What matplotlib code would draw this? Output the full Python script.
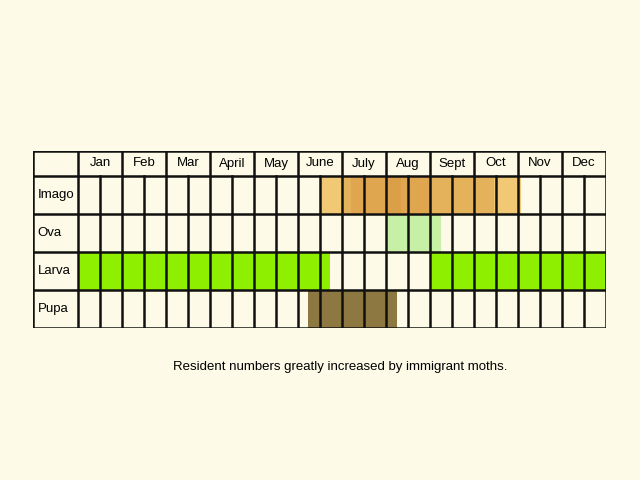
import matplotlib.pyplot as plt
from matplotlib.patches import Rectangle

months = ['Jan', 'Feb', 'Mar', 'Apr' if False else 'April', 'May', 'June', 'July',
          'Aug', 'Sept', 'Oct', 'Nov', 'Dec']
stages = ['Imago', 'Ova', 'Larva', 'Pupa']

# periods in months (0 = start of Jan)
imago = [(5.5, 10.07), (6.0, 9.45), (6.2, 8.0), (7.0, 7.35)]
ova = [(7.0, 8.25)]
larva = [(0.0, 5.73), (8.0, 12.0)]
pupa = [(5.23, 7.25)]

bg = '#fdfbe8'
fig = plt.figure(figsize=(6.4, 4.8), dpi=100, facecolor=bg)
# grid spans x 33..606 px, y 151..328 px
ax = fig.add_axes([33/640, 1 - 328/480, (606-33)/640, (328-151)/480])
lab_w = 45/44
hdr = 25/38
ax.set_xlim(-lab_w, 12)
ax.set_ylim(4 + hdr, 0)
ax.axis('off')
ax.set_facecolor(bg)

def row_y(i):
    return hdr + i

def bars(i, spans, color, alpha):
    for a, b in spans:
        ax.add_patch(Rectangle((a, row_y(i)), b - a, 1, color=color, alpha=alpha, lw=0))

bars(0, imago[:1], '#f0c060', 0.85)
for s in imago[1:]:
    bars(0, [s], '#d89840', 0.45)
bars(1, ova, '#c6f0a6', 1)
bars(2, larva, '#8ef000', 1)
bars(3, pupa, '#8c7840', 1)

lw = 1.8
# horizontal lines
for y in [0, hdr, hdr + 1, hdr + 2, hdr + 3, hdr + 4]:
    ax.plot([-lab_w, 12], [y, y], color='#111111', lw=lw, solid_capstyle='projecting')
# vertical lines
ax.plot([-lab_w, -lab_w], [0, hdr + 4], color='#111111', lw=lw)
for m in range(13):
    ax.plot([m, m], [0, hdr + 4], color='#111111', lw=lw)
for m in range(12):
    ax.plot([m + 0.5, m + 0.5], [hdr, hdr + 4], color='#111111', lw=lw)

for m, name in enumerate(months):
    ax.text(m + 0.5, hdr / 2, name, ha='center', va='center', fontsize=9.5,
            family='Liberation Sans')
for i, name in enumerate(stages):
    ax.text(-lab_w + 0.1, row_y(i) + 0.5, name, ha='left', va='center', fontsize=9.5,
            family='Liberation Sans')

fig.text(340/640, 1 - 367/480, 'Resident numbers greatly increased by immigrant moths.',
         ha='center', va='center', fontsize=9.5, family='Liberation Sans')

fig.savefig('out.png', facecolor=bg)
